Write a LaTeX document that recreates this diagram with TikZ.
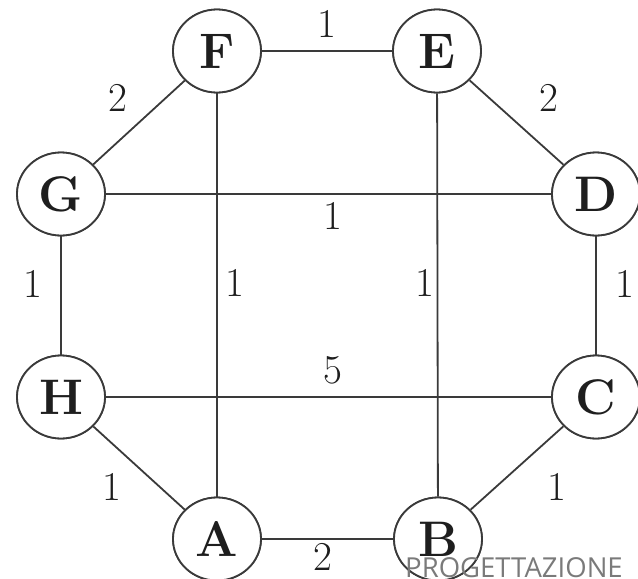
\documentclass[tikz,border=0pt]{standalone}
\usepackage{fontspec}
\newfontfamily\wmfont{Open Sans}
\usetikzlibrary{shapes.geometric}
\definecolor{linec}{HTML}{3A3A3A}
\definecolor{textc}{HTML}{1E1E1E}
\definecolor{wmc}{HTML}{7A7A7A}
\begin{document}
\begin{tikzpicture}[x=1pt,y=-1pt,
  vert/.style={ellipse,draw=linec,line width=1.8pt,fill=white,minimum width=88pt,minimum height=83pt,inner sep=0pt,
    font=\fontsize{50}{50}\selectfont\bfseries,text=textc},
  wlab/.style={midway,font=\fontsize{41}{41}\selectfont,text=textc,inner sep=0pt},
  edge/.style={draw=linec,line width=1.8pt}]
\useasboundingbox (0,0) rectangle (638,579);
\node[vert] (F) at (217,51) {F};
\node[vert] (E) at (437,51) {E};
\node[vert] (G) at (61,194) {G};
\node[vert] (D) at (596,194) {D};
\node[vert] (H) at (61,397) {H};
\node[vert] (C) at (596,397) {C};
\node[vert] (A) at (217,539) {A};
\node[vert] (B) at (438,539) {B};
\path[edge] (F) -- node[wlab,yshift=27pt] {1} (E);
\path[edge] (F) -- node[wlab,xshift=-21pt,yshift=25pt] {2} (G);
\path[edge] (E) -- node[wlab,xshift=32pt,yshift=25pt] {2} (D);
\path[edge] (G) -- node[wlab,xshift=4pt,yshift=-22pt] {1} (D);
\path[edge] (G) -- node[wlab,xshift=-28pt,yshift=12pt] {1} (H);
\path[edge] (D) -- node[wlab,xshift=29pt,yshift=12pt] {1} (C);
\path[edge] (F) -- node[wlab,xshift=18pt,yshift=12pt] {1} (A);
\path[edge] (E) -- node[wlab,xshift=-13pt,yshift=12pt] {1} (B);
\path[edge] (H) -- node[wlab,xshift=4pt,yshift=27pt] {5} (C);
\path[edge] (H) -- node[wlab,xshift=-27pt,yshift=-19pt] {1} (A);
\path[edge] (B) -- node[wlab,xshift=40pt,yshift=-19pt] {1} (C);
\path[edge] (A) -- node[wlab,xshift=-5pt,yshift=-18pt] {2} (B);
\node[vert] at (F) {F};
\node[vert] at (E) {E};
\node[vert] at (G) {G};
\node[vert] at (D) {D};
\node[vert] at (H) {H};
\node[vert] at (C) {C};
\node[vert] at (A) {A};
\node[vert] at (B) {B};
\node[font=\wmfont\fontsize{27.5}{27.5}\selectfont,text=wmc,anchor=base west,inner sep=0pt] (wm) at (405,577) {PROGETTAZIONE};
\end{tikzpicture}
\end{document}
